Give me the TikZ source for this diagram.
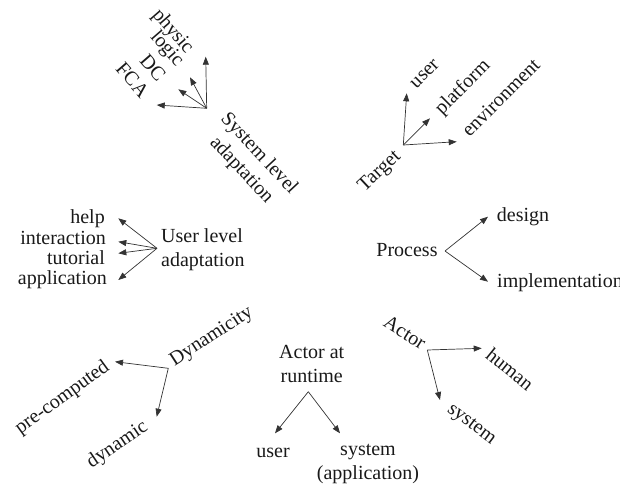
\documentclass[tikz,border=0pt]{standalone}
\usepackage{fontspec}
\setmainfont{Liberation Serif}
\usetikzlibrary{arrows.meta}
\begin{document}
\begin{tikzpicture}[x=1pt,y=-1pt,
  lbl/.style={font=\fontsize{20}{24}\selectfont, inner sep=0pt, text=black!90},
  branch/.style={draw=black!80, line width=0.7pt, -{Triangle[length=8pt,width=6pt]}}]
\useasboundingbox (0,0) rectangle (620,483);

% --- System level adaptation ---
\node[lbl, rotate=-47, align=center] (sla) at (250,162) {System level\\adaptation};
\coordinate (slaH) at (206.7,108.3);
\node[lbl, rotate=-49] (physic) at (172.5,31.7) {physic};
\node[lbl, rotate=-49] (logic) at (166.7,49) {logic};
\node[lbl, rotate=-49] (dc) at (153,67.5) {DC};
\node[lbl, rotate=-49] (fca) at (132.5,80) {FCA};
\coordinate (physicT) at (205.7,56.7);
\coordinate (logicT) at (190,77.3);
\coordinate (dcT) at (178.3,89.3);
\coordinate (fcaT) at (156.7,105);
\foreach \t in {physicT,logicT,dcT,fcaT} \draw[branch] (slaH) -- (\t);

% --- Target ---
\node[lbl, rotate=43] (target) at (380,171.7) {Target};
\coordinate (tgH) at (403.3,145);
\node[lbl, rotate=45] (tuser) at (425,74) {user};
\node[lbl, rotate=45] (platform) at (463,87.5) {platform};
\node[lbl, rotate=45] (env) at (500.8,97.5) {environment};
\coordinate (tuserT) at (406.7,93.3);
\coordinate (platformT) at (430,118.3);
\coordinate (envT) at (456.7,141.7);
\foreach \t in {tuserT,platformT,envT} \draw[branch] (tgH) -- (\t);

% --- User level adaptation ---
\node[lbl, align=left, anchor=west] (ula) at (161,250) {User level\\adaptation};
\coordinate (ulaH) at (157,248.3);
\node[lbl, anchor=base east] (help) at (105,223) {help};
\node[lbl, anchor=base east] (inter) at (106,244) {interaction};
\node[lbl, anchor=base east] (tut) at (105,264) {tutorial};
\node[lbl, anchor=base east] (appl) at (107,284.5) {application};
\coordinate (helpT) at (118.3,218.3);
\coordinate (interT) at (118.3,241.7);
\coordinate (tutT) at (118.3,253.3);
\coordinate (applT) at (118.3,280);
\foreach \t in {helpT,interT,tutT,applT} \draw[branch] (ulaH) -- (\t);

% --- Process ---
\node[lbl, anchor=base] (process) at (407,256.7) {Process};
\coordinate (prH) at (445,251);
\node[lbl, anchor=base west] (design) at (496.7,221.7) {design};
\node[lbl, anchor=base west] (impl) at (497,287) {implementation};
\coordinate (designT) at (488,216.7);
\coordinate (implT) at (488,281.7);
\foreach \t in {designT,implT} \draw[branch] (prH) -- (\t);

% --- Dynamicity ---
\node[lbl, rotate=33] (dyn) at (211.7,336.7) {Dynamicity};
\coordinate (dynH) at (168.3,368.3);
\node[lbl, rotate=36] (precomp) at (62.5,398) {pre-computed};
\node[lbl, rotate=34] (dynamic) at (117.5,445) {dynamic};
\coordinate (precompT) at (115,361.7);
\coordinate (dynamicT) at (156.7,416.7);
\foreach \t in {precompT,dynamicT} \draw[branch] (dynH) -- (\t);

% --- Actor at runtime ---
\node[lbl, align=center] (aar) at (311.7,364) {Actor at\\runtime};
\coordinate (aarH) at (308.3,391.7);
\node[lbl] (ruser) at (273,453) {user};
\node[lbl, align=center] (rsys) at (368,464) {system\\(application)};
\coordinate (ruserT) at (275,433.3);
\coordinate (rsysT) at (340,433.3);
\foreach \t in {ruserT,rsysT} \draw[branch] (aarH) -- (\t);

% --- Actor ---
\node[lbl, rotate=-32] (actor) at (405,332.5) {Actor};
\coordinate (acH) at (427.3,350);
\node[lbl, rotate=-39] (human) at (510,369) {human};
\node[lbl, rotate=-37] (asys) at (471,425) {system};
\coordinate (humanT) at (481.7,348.3);
\coordinate (asysT) at (440,400);
\foreach \t in {humanT,asysT} \draw[branch] (acH) -- (\t);
\end{tikzpicture}
\end{document}
